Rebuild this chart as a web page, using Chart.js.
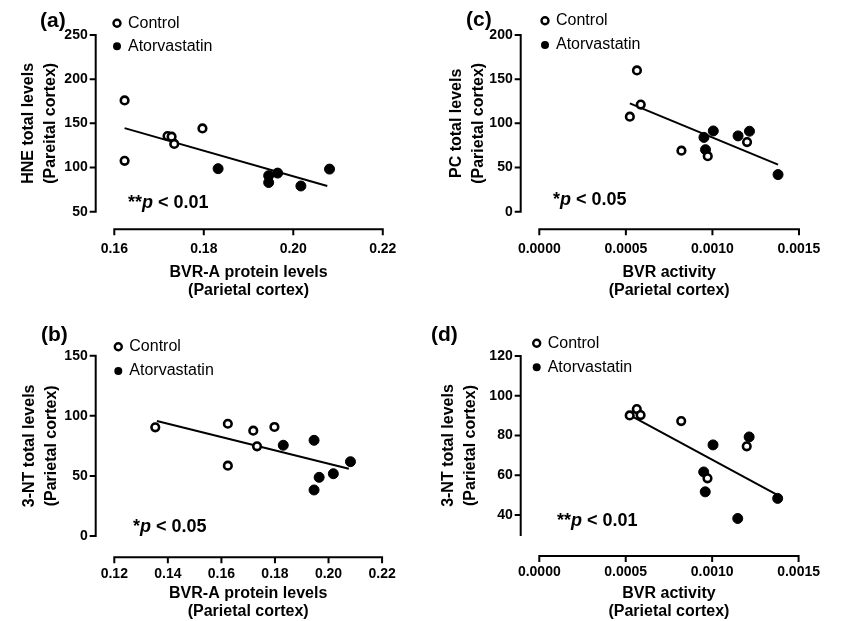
<!DOCTYPE html>
<html>
<head>
<meta charset="utf-8">
<script src="https://cdn.jsdelivr.net/npm/chart.js@4.4.0/dist/chart.umd.min.js"></script>
<style>
  html, body { margin: 0; padding: 0; background: #fff; }
  #wrap { position: relative; width: 849px; height: 621px; }
  canvas { position: absolute; }
</style>
</head>
<body>
<div id="wrap">
  <canvas id="panelA" width="425" height="310" style="left:0;top:0"></canvas>
  <canvas id="panelC" width="424" height="310" style="left:425px;top:0"></canvas>
  <canvas id="panelB" width="425" height="311" style="left:0;top:310px"></canvas>
  <canvas id="panelD" width="424" height="311" style="left:425px;top:310px"></canvas>
</div>
<script>
var FAM = '"Liberation Sans", Arial, Helvetica, sans-serif';
Chart.defaults.font.family = FAM;
Chart.defaults.color = '#000';

var groups = ['Control', 'Atorvastatin'];

// (a) BVR-A protein levels vs HNE
var aCtrlX = [0.1623, 0.1623, 0.1719, 0.1728, 0.1734, 0.1797];
var aCtrlY = [176, 107.6, 135.7, 134.9, 126.7, 144.2];
var aAtorX = [0.1832, 0.1945, 0.1945, 0.1965, 0.2017, 0.2081];
var aAtorY = [98.7, 90.8, 83, 93.7, 79.1, 98.2];
var aFitX = [0.1623, 0.2076];
var aFitY = [144.6, 79.1];

// (b) BVR-A protein levels vs 3-NT
var bCtrlX = [0.1353, 0.1624, 0.1624, 0.1719, 0.1733, 0.1798];
var bCtrlY = [90.4, 93.4, 58.5, 87.6, 74.6, 90.7];
var bAtorX = [0.1831, 0.1946, 0.1965, 0.1946, 0.2018, 0.2082];
var bAtorY = [75.5, 79.6, 48.8, 38.3, 51.8, 61.8];
var bFitX = [0.1359, 0.2076];
var bFitY = [95.7, 56.0];

// (c) BVR activity vs PC
var cCtrlX = [0.000523, 0.000564, 0.000586, 0.000821, 0.000973, 0.0012];
var cCtrlY = [107.5, 159.9, 121.2, 69.1, 62.9, 78.8];
var cAtorX = [0.000951, 0.00096, 0.001005, 0.001148, 0.001214, 0.001379];
var cAtorY = [84.1, 70.2, 91.4, 85.8, 91.1, 42.0];
var cFitX = [0.000523, 0.001379];
var cFitY = [122.6, 53.2];

// (d) BVR activity vs 3-NT
var dCtrlX = [0.000523, 0.000564, 0.000586, 0.000821, 0.000973, 0.0012];
var dCtrlY = [90.1, 93.3, 90.3, 87.3, 58.5, 74.6];
var dAtorX = [0.000951, 0.00096, 0.001005, 0.001148, 0.001214, 0.001379];
var dAtorY = [61.7, 51.7, 75.3, 38.3, 79.3, 48.4];
var dFitX = [0.000523, 0.001379];
var dFitY = [90.3, 50.0];

// tick labels
var bvrAticksA = [0.16, 0.18, 0.20, 0.22];
var bvrAticksB = [0.12, 0.14, 0.16, 0.18, 0.20, 0.22];
var bvrActTicks = [0, 0.0005, 0.0010, 0.0015];
var hneTicks = [50, 100, 150, 200, 250];
var ntTicksB = [0, 50, 100, 150];
var pcTicks = [0, 50, 100, 150, 200];
var ntTicksD = [40, 60, 80, 100, 120];

var TICK = 5;

function pts(xs, ys) {
  return xs.map(function (x, i) { return { x: x, y: ys[i] }; });
}

// Prism-style detached axes, drawn from the chart's own scales
var axesPlugin = {
  id: 'prismAxes',
  beforeDatasetsDraw: function (chart) {
    var p = chart.options.plugins.prismAxes;
    var ctx = chart.ctx, xs = chart.scales.x, ys = chart.scales.y, a = chart.chartArea;
    var axY = a.bottom + p.gapX;
    var axX = a.left - p.gapY;
    ctx.save();
    ctx.strokeStyle = '#000';
    ctx.lineWidth = 2;
    ctx.lineCap = 'square';
    ctx.beginPath();
    ctx.moveTo(xs.getPixelForValue(xs.min), axY);
    ctx.lineTo(xs.getPixelForValue(xs.max), axY);
    xs.ticks.forEach(function (t) {
      var px = xs.getPixelForValue(t.value);
      ctx.moveTo(px, axY);
      ctx.lineTo(px, axY + TICK);
    });
    ctx.moveTo(axX, ys.getPixelForValue(ys.min));
    ctx.lineTo(axX, ys.getPixelForValue(ys.max));
    ys.ticks.forEach(function (t) {
      var py = ys.getPixelForValue(t.value);
      ctx.moveTo(axX, py);
      ctx.lineTo(axX - TICK, py);
    });
    ctx.stroke();
    ctx.restore();
  }
};

// legend, p-value and panel letter
var notesPlugin = {
  id: 'notes',
  afterDraw: function (chart) {
    var n = chart.options.plugins.notes;
    var ctx = chart.ctx;
    ctx.save();
    ctx.textBaseline = 'middle';
    ctx.textAlign = 'left';
    ctx.fillStyle = '#000';

    ctx.font = 'bold 21px ' + FAM;
    ctx.fillText(n.letter, n.letterPos[0], n.letterPos[1]);

    // legend
    ctx.font = '16px ' + FAM;
    chart.data.datasets.forEach(function (ds, i) {
      if (ds.showLine) return;
      var lx = n.legendPos[0], ly = n.legendPos[1] + i * n.legendStep;
      ctx.beginPath();
      if (ds.pointBackgroundColor === '#fff') {
        ctx.arc(lx, ly, 3.5, 0, Math.PI * 2);
        ctx.lineWidth = 2.4;
        ctx.strokeStyle = '#000';
        ctx.stroke();
      } else {
        ctx.arc(lx, ly, 4, 0, Math.PI * 2);
        ctx.fill();
      }
      ctx.fillText(ds.label, lx + 11, ly);
    });

    // significance
    var x = n.pPos[0], y = n.pPos[1];
    ctx.font = 'bold 18px ' + FAM;
    ctx.fillText(n.stars, x, y);
    x += ctx.measureText(n.stars).width;
    ctx.font = 'italic bold 18px ' + FAM;
    ctx.fillText('p', x, y);
    x += ctx.measureText('p').width;
    ctx.font = 'bold 18px ' + FAM;
    ctx.fillText(' < ' + n.pValue, x, y);
    ctx.restore();
  }
};

function makePanel(id, cfg) {
  var canvas = document.getElementById(id);
  var W = canvas.width, H = canvas.height;
  return new Chart(canvas, {
    type: 'scatter',
    data: {
      datasets: [{
        label: groups[0],
        data: pts(cfg.ctrlX, cfg.ctrlY),
        pointStyle: 'circle',
        pointRadius: 3.8,
        pointBorderWidth: 2.6,
        pointBackgroundColor: '#fff',
        pointBorderColor: '#000',
        clip: false,
        order: 0
      }, {
        label: groups[1],
        data: pts(cfg.atorX, cfg.atorY),
        pointStyle: 'circle',
        pointRadius: 5,
        pointBorderWidth: 1,
        pointBackgroundColor: '#000',
        pointBorderColor: '#000',
        clip: false,
        order: 1
      }, {
        label: 'fit',
        data: pts(cfg.fitX, cfg.fitY),
        showLine: true,
        borderColor: '#000',
        borderWidth: 2,
        pointRadius: 0,
        clip: false,
        order: 2
      }]
    },
    options: {
      responsive: false,
      animation: false,
      devicePixelRatio: 1,
      events: [],
      layout: { padding: { left: 0, top: cfg.top, right: W - 391, bottom: 0 } },
      plugins: {
        legend: { display: false },
        tooltip: { enabled: false },
        prismAxes: { gapX: cfg.gapX, gapY: 18.6 },
        notes: cfg.notes
      },
      scales: {
        x: {
          type: 'linear',
          position: 'bottom',
          min: cfg.xTicks[0],
          max: cfg.xTicks[cfg.xTicks.length - 1],
          afterBuildTicks: function (s) { s.ticks = cfg.xTicks.map(function (v) { return { value: v }; }); },
          afterFit: function (s) { s.height = H - cfg.bottom; },
          grid: { display: false, drawTicks: false },
          border: { display: false },
          ticks: {
            autoSkip: false,
            maxRotation: 0,
            padding: cfg.gapX + TICK + cfg.xLabelPad,
            font: { size: 14, weight: 'bold' },
            callback: function (v) { return Number(v).toFixed(cfg.xDec); }
          },
          title: {
            display: true,
            text: cfg.xTitle,
            font: { size: 16, weight: 'bold', lineHeight: 1.125 },
            padding: { top: 0, bottom: cfg.xTitlePad }
          }
        },
        y: {
          type: 'linear',
          min: cfg.yMin,
          max: cfg.yTicks[cfg.yTicks.length - 1],
          afterBuildTicks: function (s) { s.ticks = cfg.yTicks.map(function (v) { return { value: v }; }); },
          afterFit: function (s) { s.width = 114.3; },
          grid: { display: false, drawTicks: false },
          border: { display: false },
          ticks: {
            autoSkip: false,
            padding: 18.6 + TICK + 3,
            font: { size: 14, weight: 'bold' },
            callback: function (v) { return Number(v).toFixed(0); }
          },
          title: {
            display: true,
            text: cfg.yTitle,
            font: { size: 16, weight: 'bold', lineHeight: 1.35 },
            padding: { top: cfg.yTitlePad, bottom: 0 }
          }
        }
      }
    },
    plugins: [axesPlugin, notesPlugin]
  });
}

var bvrATitle = ['BVR-A protein levels', '(Parietal cortex)'];
var bvrActTitle = ['BVR activity', '(Parietal cortex)'];

makePanel('panelA', {
  ctrlX: aCtrlX, ctrlY: aCtrlY, atorX: aAtorX, atorY: aAtorY, fitX: aFitX, fitY: aFitY,
  xTicks: bvrAticksA, yTicks: hneTicks, yMin: 50, xDec: 2,
  top: 33.3, bottom: 211.7, gapX: 17.6, xLabelPad: 6,
  xTitle: bvrATitle, xTitlePad: 10,
  yTitle: ['HNE total levels', '(Pareital cortex)'], yTitlePad: 18,
  notes: { letter: '(a)', letterPos: [40, 21], legendPos: [117, 23.3], legendStep: 23, stars: '**', pValue: '0.01', pPos: [128, 203] }
});

makePanel('panelC', {
  ctrlX: cCtrlX, ctrlY: cCtrlY, atorX: cAtorX, atorY: cAtorY, fitX: cFitX, fitY: cFitY,
  xTicks: bvrActTicks, yTicks: pcTicks, yMin: 0, xDec: 4,
  top: 32.3, bottom: 211.7, gapX: 17.6, xLabelPad: 6,
  xTitle: bvrActTitle, xTitlePad: 10,
  yTitle: ['PC total levels', '(Parietal cortex)'], yTitlePad: 21,
  notes: { letter: '(c)', letterPos: [41, 20], legendPos: [120, 20.7], legendStep: 24.3, stars: '*', pValue: '0.05', pPos: [128, 200] }
});

makePanel('panelB', {
  ctrlX: bCtrlX, ctrlY: bCtrlY, atorX: bAtorX, atorY: bAtorY, fitX: bFitX, fitY: bFitY,
  xTicks: bvrAticksB, yTicks: ntTicksB, yMin: 0, xDec: 2,
  top: 45.7, bottom: 226, gapX: 21.3, xLabelPad: 3,
  xTitle: bvrATitle, xTitlePad: 0,
  yTitle: ['3-NT total levels', '(Parietal cortex)'], yTitlePad: 19,
  notes: { letter: '(b)', letterPos: [41, 25], legendPos: [118.3, 36.7], legendStep: 24.3, stars: '*', pValue: '0.05', pPos: [133, 217] }
});

makePanel('panelD', {
  ctrlX: dCtrlX, ctrlY: dCtrlY, atorX: dAtorX, atorY: dAtorY, fitX: dFitX, fitY: dFitY,
  xTicks: bvrActTicks, yTicks: ntTicksD, yMin: 30, xDec: 4,
  top: 46, bottom: 225, gapX: 21, xLabelPad: 3,
  xTitle: bvrActTitle, xTitlePad: 0,
  yTitle: ['3-NT total levels', '(Parietal cortex)'], yTitlePad: 13,
  notes: { letter: '(d)', letterPos: [6, 25], legendPos: [111.7, 33.3], legendStep: 24, stars: '**', pValue: '0.01', pPos: [132, 211] }
});
</script>
</body>
</html>
